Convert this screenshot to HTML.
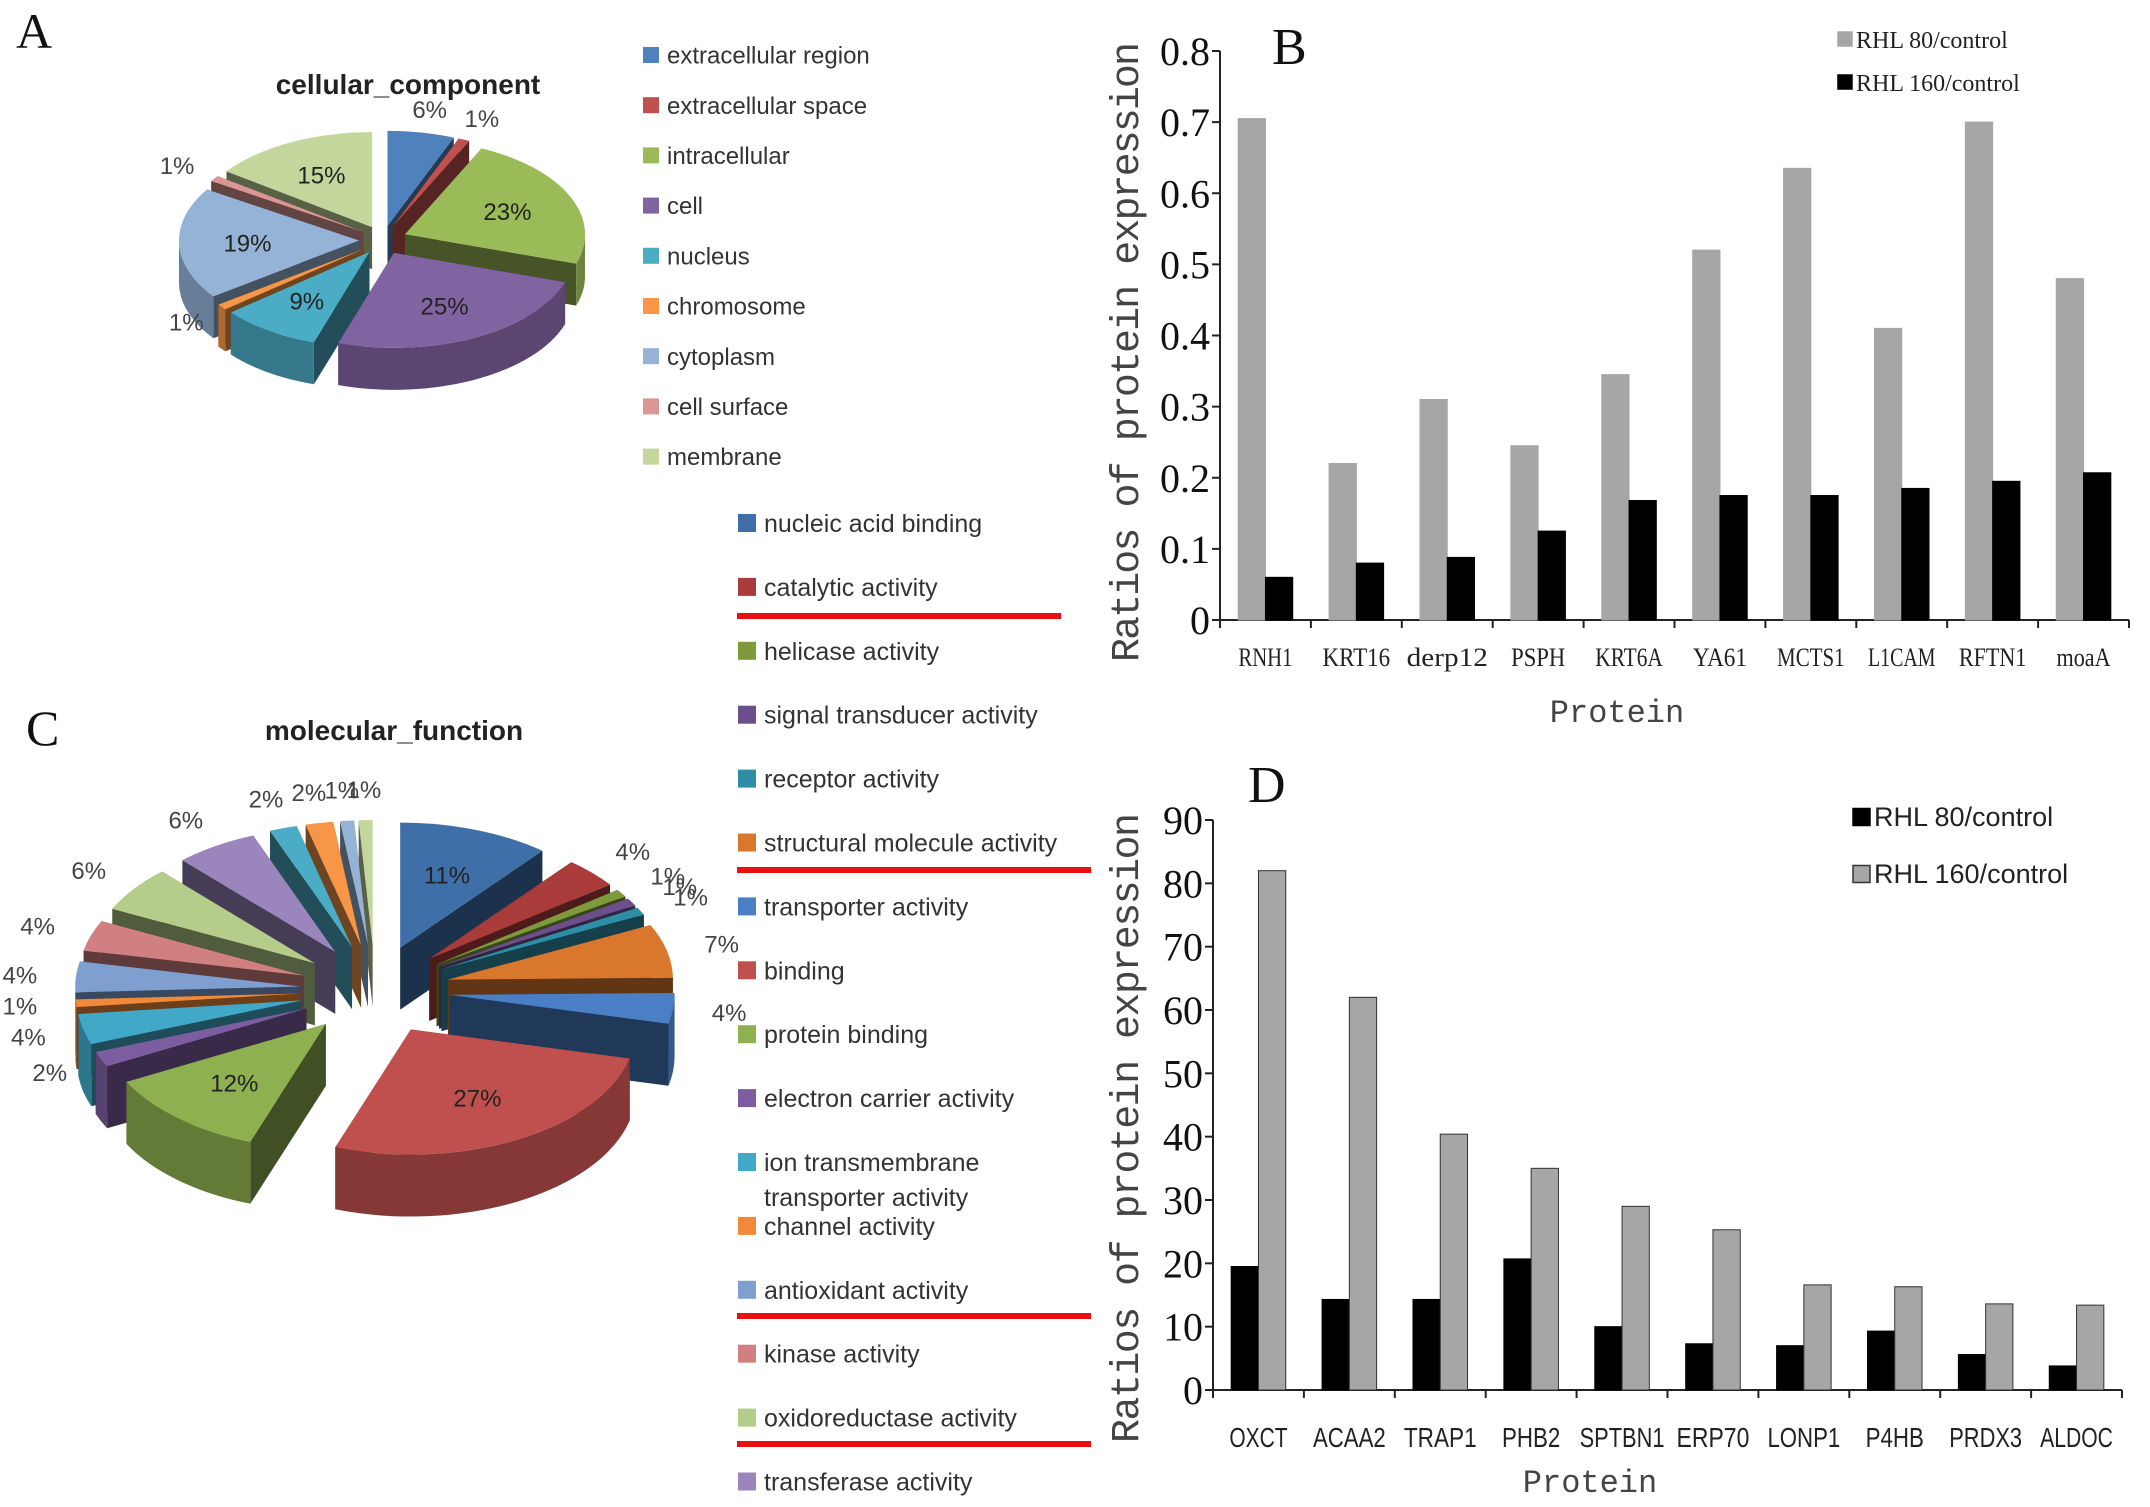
<!DOCTYPE html>
<html><head><meta charset="utf-8">
<style>
html,body{margin:0;padding:0;background:#fff;}
svg{display:block;}
.sans{font-family:"Liberation Sans",sans-serif;}
.serif{font-family:"Liberation Serif",serif;}
.mono{font-family:"Liberation Mono",monospace;}
</style></head>
<body>
<svg id="fig" width="2150" height="1507" viewBox="0 0 2150 1507" xmlns="http://www.w3.org/2000/svg">
<rect width="2150" height="1507" fill="#fff"/>
<g id="panelA">
<text class="serif" x="16" y="48" font-size="50" fill="#111">A</text>
<text class="sans" x="408" y="94" font-size="28" font-weight="bold" text-anchor="middle" fill="#222">cellular_component</text>
<g id="pieA"></g>
<g id="legA"></g>
</g>
<g id="panelC">
<text class="serif" x="26" y="745" font-size="50" fill="#111">C</text>
<text class="sans" x="394" y="740" font-size="28" font-weight="bold" text-anchor="middle" fill="#222">molecular_function</text>
<g id="pieC"></g>
<g id="legC"></g>
<rect x="737" y="613" width="324" height="6" fill="#e81010"/>
<rect x="737" y="867" width="354" height="6" fill="#e81010"/>
<rect x="737" y="1313" width="354" height="6" fill="#e81010"/>
<rect x="737" y="1441" width="354" height="6" fill="#e81010"/>
</g>
<g id="chartB"></g>
<g id="chartD"></g>
</svg>
<script>
// ---------- data ----------
const pieALabels = ["extracellular region","extracellular space","intracellular","cell","nucleus","chromosome","cytoplasm","cell surface","membrane"];
const pieAValues = [6,1,23,25,9,1,19,1,15];
const pieAColors = ["#4f81bd","#c0504d","#9bbb59","#8064a2","#4bacc6","#f79646","#95b3d7","#d99694","#c3d69b"];

const pieCLabels = ["nucleic acid binding","catalytic activity","helicase activity","signal transducer activity","receptor activity","structural molecule activity","transporter activity","binding","protein binding","electron carrier activity","ion transmembrane","channel activity","antioxidant activity","kinase activity","oxidoreductase activity","transferase activity"];
const pieCValues = [11,4,1,1,1,7,4,27,12,2,4,1,4,4,6,6,2,2,1,1];
const pieCColors = ["#3e6fa8","#a93c3a","#7f9a3c","#6a4f8c","#2f8ea6","#d9782c","#4a7fc6","#c0504d","#8fb050","#7c5ea0","#42a8c8","#f08a3a","#7f9fd0","#d08080","#b5cc8a","#9a86bc","#4bacc6","#f79646","#95b3d7","#c3d69b"];

const catB = ["RNH1","KRT16","derp12","PSPH","KRT6A","YA61","MCTS1","L1CAM","RFTN1","moaA"];
const b80 = [0.705,0.22,0.31,0.245,0.345,0.52,0.635,0.41,0.70,0.48];
const b160 = [0.06,0.08,0.088,0.125,0.168,0.175,0.175,0.185,0.195,0.207];
const ticksB = ["0","0.1","0.2","0.3","0.4","0.5","0.6","0.7","0.8"];

const catD = ["OXCT","ACAA2","TRAP1","PHB2","SPTBN1","ERP70","LONP1","P4HB","PRDX3","ALDOC"];
const d80 = [19.5,14.3,14.3,20.7,10,7.3,7,9.3,5.6,3.8];
const d160 = [82,62,40.4,35,29,25.3,16.6,16.3,13.6,13.4];
const ticksD = ["0","10","20","30","40","50","60","70","80","90"];

const NS="http://www.w3.org/2000/svg";
function mk(tag,attrs,parent){const e=document.createElementNS(NS,tag);for(const k in attrs)e.setAttribute(k,attrs[k]);parent.appendChild(e);return e;}
function shade(hex,f){const n=parseInt(hex.slice(1),16);let r=(n>>16)&255,g=(n>>8)&255,b=n&255;r=Math.round(r*f);g=Math.round(g*f);b=Math.round(b*f);return "rgb("+r+","+g+","+b+")";}

// ---------- 3D pie ----------
function pie3d(g,vals,cols,cfg){
  const total=vals.reduce((a,b)=>a+b,0);
  let a=0;const sl=[];
  vals.forEach((v,i)=>{const a0=a,a1=a+v/total*2*Math.PI;a=a1;sl.push({i,v,a0,a1,m:(a0+a1)/2});});
  const P=(cx,cy,t,k)=>[cx+cfg.rx*k*Math.sin(t),cy-cfg.ry*k*Math.cos(t)];
  const order=sl.slice().sort((p,q)=>(-Math.cos(p.m))-(-Math.cos(q.m)));
  order.forEach(s=>{
    const ex=cfg.ex;
    const cx=cfg.cx+ex*Math.sin(s.m), cy=cfg.cy-ex*0.6*Math.cos(s.m);
    const col=cols[s.i%cols.length];
    const sg=mk("g",{},g);
    
    
    [s.a0,s.a1].forEach(t=>{const p=P(cx,cy,t,1);
      mk("path",{d:`M${cx},${cy} L${p[0]},${p[1]} L${p[0]},${p[1]+cfg.d} L${cx},${cy+cfg.d} Z`,fill:shade(col,0.45)},sg);});
    const lo=Math.max(s.a0,Math.PI/2), hi=Math.min(s.a1,1.5*Math.PI);
    if(hi>lo){const p0=P(cx,cy,lo,1),p1=P(cx,cy,hi,1);const big=(hi-lo)>Math.PI?1:0;
      mk("path",{d:`M${p0[0]},${p0[1]} A${cfg.rx},${cfg.ry} 0 ${big} 1 ${p1[0]},${p1[1]} L${p1[0]},${p1[1]+cfg.d} A${cfg.rx},${cfg.ry} 0 ${big} 0 ${p0[0]},${p0[1]+cfg.d} Z`,fill:shade(col,0.7)},sg);}
    const p0=P(cx,cy,s.a0,1),p1=P(cx,cy,s.a1,1);const big=(s.a1-s.a0)>Math.PI?1:0;
    mk("path",{d:`M${cx},${cy} L${p0[0]},${p0[1]} A${cfg.rx},${cfg.ry} 0 ${big} 1 ${p1[0]},${p1[1]} Z`,fill:col},sg);
    const pct=Math.round(s.v/total*100)+"%";
    let lp,c;
    if(s.v/total>0.08){lp=P(cx,cy,s.m,0.62);c="#222";}else{lp=P(cx,cy,s.m,1.25);c="#444";}
    const t=mk("text",{x:lp[0],y:lp[1]+9,"font-size":cfg.fs,"text-anchor":"middle",fill:c,class:"sans"},g);
    t.textContent=pct;
    
    
  });
}
pie3d(document.getElementById("pieA"),pieAValues,pieAColors,{cx:383,cy:240,rx:180,ry:95,d:42,ex:24,fs:24});
pie3d(document.getElementById("pieC"),pieCValues,pieCColors,{cx:375,cy:990,rx:225,ry:125,d:62,ex:75,fs:24});

// ---------- legends ----------
function legend(g,labels,cols,x,y0,step,fs,sq){
  labels.forEach((l,i)=>{
    const y=y0+step*i;
    const r=mk("rect",{x:x,y:y-sq/2,width:sq,height:sq,fill:cols[i]},g);
    
    
    const t=mk("text",{x:x+sq+8,y:y+fs*0.36,"font-size":fs,fill:"#333",class:"sans"},g);
    t.textContent=l;
    
    
  });
}
legend(document.getElementById("legA"),pieALabels,pieAColors,643,55,50.2,24,16);
legend(document.getElementById("legC"),pieCLabels,pieCColors.slice(0,16),738,523,63.9,25,18);
{const t=mk("text",{x:764,y:1206,"font-size":25,fill:"#333",class:"sans"},document.getElementById("legC"));
t.textContent="transporter activity";

}

// ---------- bar charts ----------
function bars(g,cfg,cats,s1,s2,ticks){
  const n=cats.length, cw=(cfg.x1-cfg.x0)/n;
  const ys=v=>cfg.y0-(v/cfg.max)*(cfg.y0-cfg.ytop);
  mk("line",{x1:cfg.x0,y1:cfg.ytop,x2:cfg.x0,y2:cfg.y0,stroke:"#222","stroke-width":2},g);
  mk("line",{x1:cfg.x0,y1:cfg.y0,x2:cfg.x1,y2:cfg.y0,stroke:"#222","stroke-width":2},g);
  ticks.forEach((tk,i)=>{const v=cfg.max*i/(ticks.length-1),y=ys(v);
    mk("line",{x1:cfg.x0-8,y1:y,x2:cfg.x0,y2:y,stroke:"#222","stroke-width":2},g);
    const t=mk("text",{x:cfg.x0-10,y:y+14,"font-size":40,"text-anchor":"end",fill:"#111",class:"serif"},g);
    t.textContent=tk;
    
    });
  for(let i=0;i<=n;i++){const x=cfg.x0+cw*i;mk("line",{x1:x,y1:cfg.y0,x2:x,y2:cfg.y0+8,stroke:"#222","stroke-width":2},g);}
  const bw=cw*0.3;
  cats.forEach((c,i)=>{
    const xc=cfg.x0+cw*(i+0.5);
    const r1=mk("rect",{x:xc-bw,y:ys(s1[i]),width:bw,height:cfg.y0-ys(s1[i]),fill:cfg.c1,stroke:cfg.st1,"stroke-width":1},g);
    
    
    const r2=mk("rect",{x:xc,y:ys(s2[i]),width:bw,height:cfg.y0-ys(s2[i]),fill:cfg.c2,stroke:cfg.st2,"stroke-width":1},g);
    
    
    const t=mk("text",{x:xc,y:cfg.xl,"font-size":cfg.cfs,"text-anchor":"middle",fill:"#222",class:cfg.cfont,textLength:Math.min(cw-6,c.length*cfg.cfs*0.52),lengthAdjust:"spacingAndGlyphs"},g);
    t.textContent=c;
    
    
  });
  const xt=mk("text",{x:cfg.xtx,y:cfg.xty,"font-size":32,"text-anchor":"middle",fill:"#444",class:"mono"},g);
  xt.textContent="Protein";
  
  
  const yt=mk("text",{x:0,y:0,"font-size":40,"text-anchor":"middle",fill:"#444",class:"mono",textLength:cfg.ytl,lengthAdjust:"spacing",transform:`translate(${cfg.ytx},${cfg.yty}) rotate(-90)`},g);
  yt.textContent="Ratios of protein expression";
  
  
  const pl=mk("text",{x:cfg.plx,y:cfg.ply,"font-size":52,fill:"#111",class:"serif"},g);
  pl.textContent=cfg.panel;
  
  
  cfg.leg.forEach((L,i)=>{
    const r=mk("rect",{x:cfg.lx,y:cfg.ly+i*cfg.lstep-cfg.lsq/2,width:cfg.lsq,height:cfg.lsq,fill:L[1],stroke:L[2],"stroke-width":1.5},g);
    
    
    const t=mk("text",{x:cfg.lx+cfg.lsq+4,y:cfg.ly+i*cfg.lstep+9,"font-size":cfg.lfs,fill:"#222",class:cfg.lfont},g);
    t.textContent=L[0];
    
    
  });
}
bars(document.getElementById("chartB"),{x0:1220,x1:2129,y0:620,ytop:51,max:0.8,c1:"#a6a6a6",st1:"#a6a6a6",c2:"#000",st2:"#000",n1:"rhl80",n2:"rhl160",
  xl:666,cfs:26,cfont:"serif",xtx:1617,xty:722,ytx:1138,yty:352,ytl:620,panel:"B",plx:1272,ply:64,
  leg:[["RHL 80/control","#a6a6a6","#a6a6a6"],["RHL 160/control","#000","#000"]],lx:1838,ly:39,lstep:43,lsq:14,lfs:24,lfont:"serif"},catB,b80,b160,ticksB);
bars(document.getElementById("chartD"),{x0:1213,x1:2122,y0:1390,ytop:820,max:90,c1:"#000",st1:"#000",c2:"#a6a6a6",st2:"#333",n1:"rhl80",n2:"rhl160",
  xl:1447,cfs:28,cfont:"sans",xtx:1590,xty:1492,ytx:1138,yty:1128,ytl:630,panel:"D",plx:1248,ply:802,
  leg:[["RHL 80/control","#000","#000"],["RHL 160/control","#a6a6a6","#333"]],lx:1853,ly:817,lstep:57,lsq:17,lfs:27,lfont:"sans"},catD,d80,d160,ticksD);
</script>
</body></html>
